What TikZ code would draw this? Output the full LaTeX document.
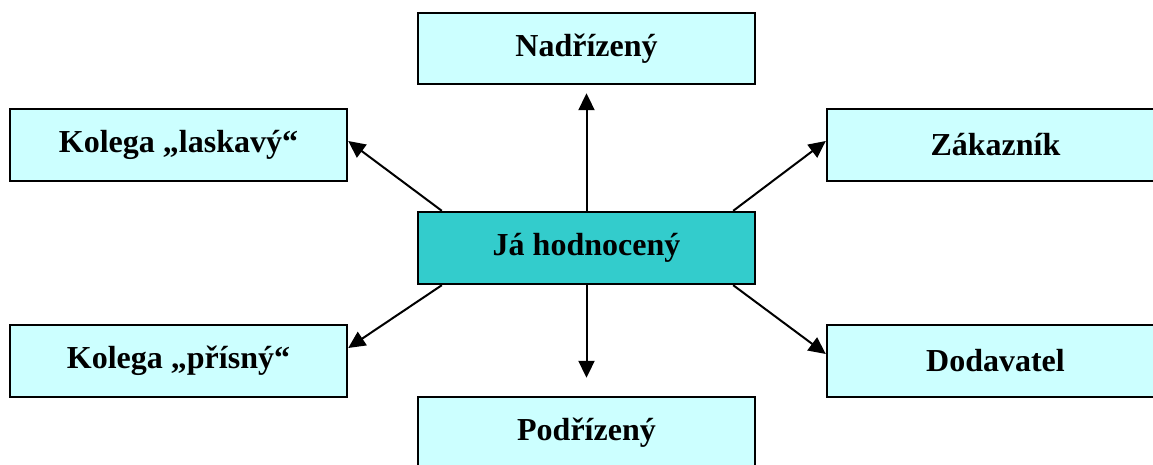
\documentclass[tikz,border=0pt]{standalone}
\usepackage{fontspec}
\setmainfont{Liberation Serif}
\usetikzlibrary{arrows.meta,calc}
\definecolor{boxfill}{HTML}{CCFFFF}
\definecolor{selffill}{HTML}{33CCCC}
\begin{document}
\begin{tikzpicture}[x=1pt,y=-1pt,
  rolebox/.style={draw=black,line width=2.4pt,fill=boxfill,
    minimum width=337pt,minimum height=72pt,inner sep=0pt,
    font=\fontsize{32}{37}\selectfont\bfseries},
  link/.style={line width=2pt,-{Triangle[length=17pt,width=16pt]}}]
  \useasboundingbox (0,0) rectangle (1153,465);
  \clip (0,0) rectangle (1153,465);
  % centre node and the six rating parties
  \node[rolebox,fill=selffill] (self) at (586.5,248) {Já hodnocený};
  \node[rolebox,minimum height=71pt] (boss) at (586.5,48.5) {Nadřízený};
  \node[rolebox] (kind) at (178.5,145) {Kolega „laskavý“};
  \node[rolebox] (cust) at (995.5,145) {Zákazník};
  \node[rolebox] (strict) at (178.5,361) {Kolega „přísný“};
  \node[rolebox] (supp) at (995.5,361) {Dodavatel};
  \node[rolebox] (sub) at (586.5,433) {Podřízený};
  % arrows leaving the centre node
  \draw[link,shorten >=8pt] (self.north) -- (boss.south);
  \draw[link,shorten >=18pt] (self.south) -- (sub.north);
  \draw[link] ($(self.north west)+(25,0)$) -- ($(kind.east)+(0,-4)$);
  \draw[link] ($(self.north east)+(-23,0)$) -- ($(cust.west)+(0,-4)$);
  \draw[link] ($(self.south west)+(25,0)$) -- ($(strict.east)+(0,-13)$);
  \draw[link] ($(self.south east)+(-23,0)$) -- ($(supp.west)+(0,-7)$);
\end{tikzpicture}
\end{document}
